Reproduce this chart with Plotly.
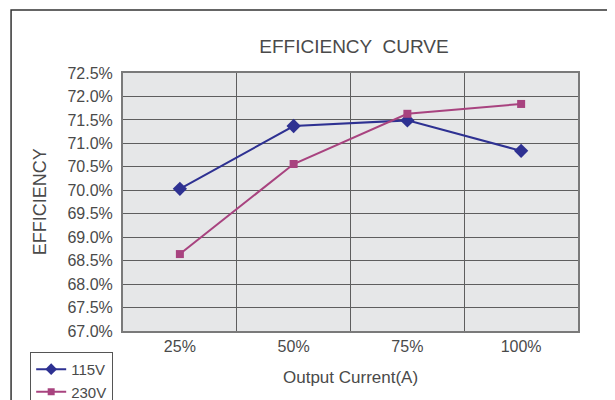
import plotly.graph_objects as go

categories = ["25%", "50%", "75%", "100%"]
eff_115v = [70.03, 71.37, 71.49, 70.84]
eff_230v = [68.64, 70.56, 71.63, 71.84]
y_ticks = [67.0, 67.5, 68.0, 68.5, 69.0, 69.5, 70.0, 70.5, 71.0, 71.5, 72.0, 72.5]
y_tick_labels = [f"{v:.1f}%" for v in y_ticks]

FONT = "Liberation Sans, Arial, sans-serif"
TXT = "#4a4a4a"
GRID = "#5e5e5e"
C1 = "#2E3192"
C2 = "#A8437F"

fig = go.Figure()
fig.add_trace(go.Scatter(
    x=categories, y=eff_115v, name="115V", mode="lines+markers", showlegend=False,
    line=dict(color=C1, width=2),
    marker=dict(symbol="diamond", size=11, color=C1),
))
fig.add_trace(go.Scatter(
    x=categories, y=eff_230v, name="230V", mode="lines+markers", showlegend=False,
    line=dict(color=C2, width=2),
    marker=dict(symbol="square", size=8, color=C2),
))
# legend entries with smaller symbols
fig.add_trace(go.Scatter(x=[None], y=[None], name="115V", mode="lines+markers",
                         line=dict(color=C1, width=2), marker=dict(symbol="diamond", size=9, color=C1)))
fig.add_trace(go.Scatter(x=[None], y=[None], name="230V", mode="lines+markers",
                         line=dict(color=C2, width=2), marker=dict(symbol="square", size=7, color=C2)))

fig.update_layout(
    width=615, height=400,
    margin=dict(l=115, r=45, t=65, b=77, autoexpand=False),
    paper_bgcolor="white", plot_bgcolor="#E6E7E8",
    font=dict(family=FONT, color=TXT, size=16),
    title=dict(text="EFFICIENCY  CURVE", x=0.5626, xanchor="center", y=0.905, yanchor="middle",
               font=dict(size=19, color=TXT)),
    showlegend=True,
    legend=dict(x=-0.204, y=-0.081, xanchor="left", yanchor="top",
                bordercolor="#555555", borderwidth=1, bgcolor="white",
                font=dict(size=15, color=TXT), tracegroupgap=0, itemwidth=30),
    shapes=[dict(type="rect", xref="paper", yref="paper", x0=-0.246, x1=2, y0=-1, y1=1.244,
                 line=dict(color="#333333", width=1.5), fillcolor="rgba(0,0,0,0)", layer="below")],
    annotations=[
        dict(text="EFFICIENCY", xref="paper", yref="paper", x=-0.182, y=0.5, textangle=-90,
             showarrow=False, xanchor="center", yanchor="middle", font=dict(size=18, color=TXT)),
        dict(text="Output Current(A)", xref="paper", yref="paper", x=0.5, y=-0.18,
             showarrow=False, xanchor="center", yanchor="middle", font=dict(size=17, color=TXT)),
    ],
)
fig.update_xaxes(
    type="category", range=[-0.5, 3.5], tickson="boundaries", automargin=False,
    showgrid=True, gridcolor=GRID, gridwidth=1,
    showline=True, linecolor="#7a7a7a", linewidth=2, mirror=True,
    ticks="outside", ticklen=12, tickcolor="rgba(0,0,0,0)",
    tickfont=dict(size=16, color=TXT),
)
fig.update_yaxes(
    range=[67.0, 72.5], tickvals=y_ticks, ticktext=y_tick_labels, automargin=False,
    showgrid=True, gridcolor=GRID, gridwidth=1,
    showline=True, linecolor="#7a7a7a", linewidth=2, mirror=True,
    ticks="outside", ticklen=5, tickcolor="rgba(0,0,0,0)",
    tickfont=dict(size=16, color=TXT), zeroline=False,
)
fig.write_html("out.html")
